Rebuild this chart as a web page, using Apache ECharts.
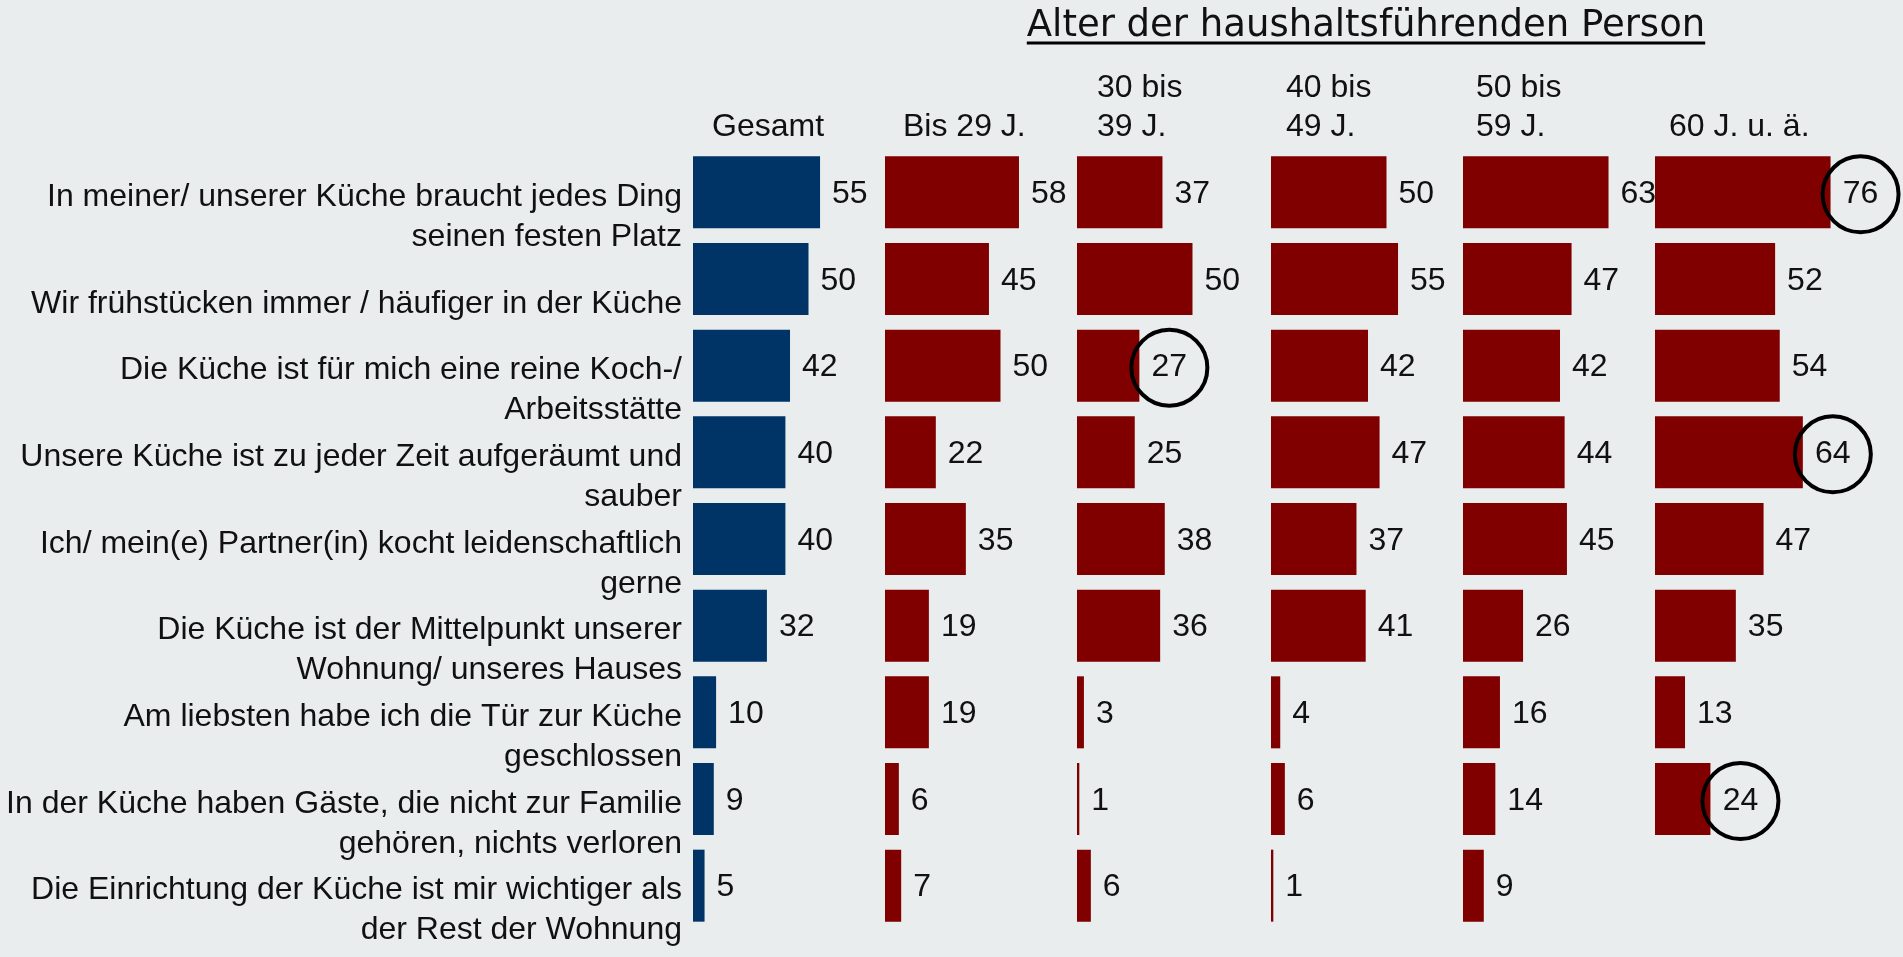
<!DOCTYPE html>
<html>
<head>
<meta charset="utf-8">
<title>Küche nach Alter der haushaltsführenden Person</title>
<script src="https://cdn.jsdelivr.net/npm/echarts@6/dist/echarts.min.js"></script>
<style>
  html, body { margin: 0; padding: 0; background: #e9edee; }
  #chart { width: 1903px; height: 957px; }
</style>
</head>
<body>
<div id="chart"></div>
<script>
const categories = [
  'In meiner/ unserer Küche braucht jedes Ding\nseinen festen Platz',
  'Wir frühstücken immer / häufiger in der Küche',
  'Die Küche ist für mich eine reine Koch-/\nArbeitsstätte',
  'Unsere Küche ist zu jeder Zeit aufgeräumt und\nsauber',
  'Ich/ mein(e) Partner(in) kocht leidenschaftlich\ngerne',
  'Die Küche ist der Mittelpunkt unserer\nWohnung/ unseres Hauses',
  'Am liebsten habe ich die Tür zur Küche\ngeschlossen',
  'In der Küche haben Gäste, die nicht zur Familie\ngehören, nichts verloren',
  'Die Einrichtung der Küche ist mir wichtiger als\nder Rest der Wohnung'
]
const columnNames = ['Gesamt', 'Bis 29 J.', '30 bis\n39 J.', '40 bis\n49 J.', '50 bis\n59 J.', '60 J. u. ä.']
const gesamt = [55, 50, 42, 40, 40, 32, 10, 9, 5]
const bis29 = [58, 45, 50, 22, 35, 19, 19, 6, 7]
const age30to39 = [37, 50, 27, 25, 38, 36, 3, 1, 6]
const age40to49 = [50, 55, 42, 47, 37, 41, 4, 6, 1]
const age50to59 = [63, 47, 42, 44, 45, 26, 16, 14, 9]
const age60plus = [76, 52, 54, 64, 47, 35, 13, 24, null]
// [row, column] of the values that are circled
const circled = [[0, 5], [2, 2], [3, 5], [7, 5]]
const titleText = 'Alter der haushaltsführenden Person'

const columns = [gesamt, bis29, age30to39, age40to49, age50to59, age60plus]
const NAVY = '#003366'
const RED = '#800000'
const TEXT = '#111111'
const FONT = '"Liberation Sans", Arial, sans-serif'

const gridLeft = [693, 885, 1077, 1271, 1463, 1655]
const headerLeft = [712, 903, 1097, 1286, 1476, 1669]
const GRID_TOP = 149
const GRID_HEIGHT = 780
const GRID_WIDTH = 231

const isCircled = (row, col) => circled.some(c => c[0] === row && c[1] === col)

function getSeriesData (values, col) {
  return values.map((v, row) => {
    if (v === null) return '-'
    if (!isCircled(row, col)) return v
    return {
      value: v,
      label: {
        align: 'center',
        distance: 30,
        width: 76,
        height: 76,
        lineHeight: 76,
        borderColor: '#000',
        borderWidth: 4,
        borderRadius: 38
      }
    }
  })
}

const measureCtx = document.createElement('canvas').getContext('2d')
measureCtx.font = '37px "DejaVu Sans"'
const titleWidth = measureCtx.measureText(titleText).width
const titleLeft = 1366 - titleWidth / 2

const chart = echarts.init(document.getElementById('chart'))

const headerTitles = columnNames.map((name, i) => {
  const lines = name.split('\n').length
  return {
    text: name,
    left: headerLeft[i],
    top: 146 - lines * 38.5,
    padding: 0,
    textStyle: {
      fontFamily: FONT,
      fontSize: 32,
      fontWeight: 'normal',
      color: TEXT,
      lineHeight: 38.5
    }
  }
})

chart.setOption({
  backgroundColor: '#e9edee',
  animation: false,
  title: headerTitles.concat([{
    text: titleText,
    left: titleLeft,
    top: 6,
    padding: 0,
    textStyle: {
      fontFamily: '"DejaVu Sans", sans-serif',
      fontSize: 37,
      fontWeight: 'normal',
      color: TEXT,
      lineHeight: 40
    }
  }]),
  graphic: [{
    type: 'line',
    shape: { x1: titleLeft, y1: 43, x2: titleLeft + titleWidth, y2: 43 },
    style: { stroke: '#000', lineWidth: 3 }
  }],
  grid: columns.map((c, i) => ({
    left: gridLeft[i],
    top: GRID_TOP,
    width: GRID_WIDTH,
    height: GRID_HEIGHT
  })),
  xAxis: columns.map((c, i) => ({
    type: 'value',
    gridIndex: i,
    min: 0,
    max: 100,
    show: false
  })),
  yAxis: columns.map((c, i) => ({
    type: 'category',
    gridIndex: i,
    data: categories,
    inverse: true,
    axisLine: { show: false },
    axisTick: { show: false },
    splitLine: { show: false },
    axisLabel: i === 0
      ? {
          show: true,
          interval: 0,
          margin: 11,
          fontFamily: FONT,
          fontSize: 32,
          color: TEXT,
          lineHeight: 40,
          align: 'right',
          verticalAlign: 'middle',
          // an empty first line pushes the text below the bar centre, as on the slide
          formatter: value => '{gap| }\n' + value,
          rich: {
            gap: { fontSize: 10, lineHeight: 50 }
          }
        }
      : { show: false }
  })),
  series: columns.map((values, i) => ({
    type: 'bar',
    name: columnNames[i],
    xAxisIndex: i,
    yAxisIndex: i,
    z: 2 + i,
    barWidth: 72,
    itemStyle: { color: i === 0 ? NAVY : RED },
    label: {
      show: true,
      position: 'right',
      distance: 12,
      offset: [0, 2],
      fontFamily: FONT,
      fontSize: 32,
      color: TEXT
    },
    data: getSeriesData(values, i)
  }))
})
</script>
</body>
</html>
